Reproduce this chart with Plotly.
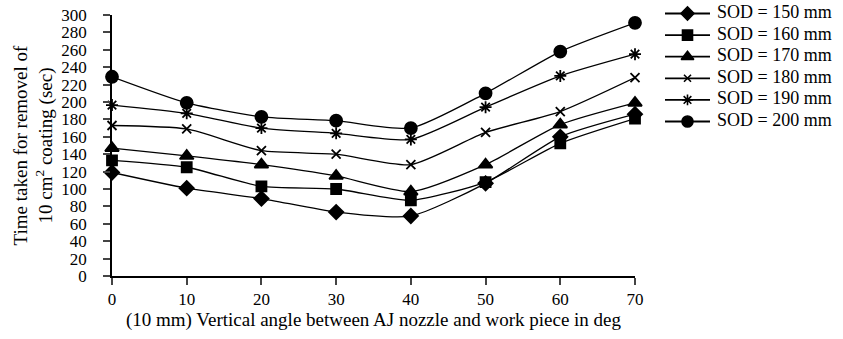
import plotly.graph_objects as go

angles = [0, 10, 20, 30, 40, 50, 60, 70]
sod_150 = [119, 101, 89, 73.5, 69, 106.5, 160, 186]
sod_160 = [133, 125, 103, 100, 87, 108, 152.5, 181]
sod_170 = [147, 138, 128, 115, 97, 128, 174, 199]
sod_180 = [173, 169, 144, 140, 128, 165, 189, 228]
sod_190 = [196.5, 187, 170, 164, 157, 194, 230, 255]
sod_200 = [229, 199, 183, 178.5, 170, 210, 258, 291]
series_names = ["SOD = 150 mm", "SOD = 160 mm", "SOD = 170 mm",
                "SOD = 180 mm", "SOD = 190 mm", "SOD = 200 mm"]
y_ticks = list(range(0, 301, 20))

series = [sod_150, sod_160, sod_170, sod_180, sod_190, sod_200]
symbols = ["diamond", "square", "triangle-up", "x-thin-open", "asterisk-open", "circle"]
sizes = [11, 10, 12, 9, 10, 12]
leg_sizes = [10, 10, 11, 7, 9, 11]

FAM = "Liberation Serif, Times New Roman, serif"
tick_font = dict(family=FAM, size=17, color="black")
title_font = dict(family=FAM, size=19, color="black")
legend_font = dict(family=FAM, size=18, color="black")

W, H = 843, 339
L, R, T, B = 112, 0, 0, 63
plot_w = W - L - R
plot_h = H - T - B          # 276 px, from the top of the page to the x axis
main_top = 15               # pixel y of the top of the data area
main_w = 523                # pixel width of the data area
leg_left = 665              # pixel where legend starts
row_first = 13.5            # pixel y of first legend row
row_gap = 21.6              # legend row spacing in px
leg_w = W - leg_left
y2_max = row_first / row_gap
y2_min = y2_max - plot_h / row_gap

fig = go.Figure()
for name, vals, sym, sz in zip(series_names, series, symbols, sizes):
    fig.add_trace(go.Scatter(
        x=angles, y=vals, name=name, mode="lines+markers",
        line=dict(color="black", width=1.3, shape="spline", smoothing=0.6),
        marker=dict(symbol=sym, size=sz, color="black",
                    line=dict(color="black", width=1.8)),
        cliponaxis=False, showlegend=False,
    ))

# custom legend drawn on its own axis in the right-hand panel
for i, (name, sym, sz) in enumerate(zip(series_names, symbols, leg_sizes)):
    fig.add_trace(go.Scatter(
        x=[0, 45], y=[-i, -i], mode="lines", xaxis="x2", yaxis="y2",
        line=dict(color="black", width=1.8), cliponaxis=False,
        showlegend=False, hoverinfo="skip",
    ))
    fig.add_trace(go.Scatter(
        x=[22.5], y=[-i], mode="markers", xaxis="x2", yaxis="y2",
        marker=dict(symbol=sym, size=sz, color="black",
                    line=dict(color="black", width=1.6)),
        cliponaxis=False, showlegend=False, hoverinfo="skip",
    ))
    fig.add_trace(go.Scatter(
        x=[52], y=[-i], mode="text", text=[name], textposition="middle right",
        textfont=legend_font, xaxis="x2", yaxis="y2",
        cliponaxis=False, showlegend=False, hoverinfo="skip",
    ))

fig.update_layout(
    width=W, height=H,
    margin=dict(l=L, r=R, t=T, b=B, autoexpand=False),
    paper_bgcolor="white", plot_bgcolor="white",
    font=tick_font,
    showlegend=False,
    xaxis=dict(
        domain=[0, main_w / plot_w],
        range=[0, 70], tickvals=angles, ticks="outside", ticklen=7, tickwidth=1.5,
        showline=True, linecolor="black", linewidth=1.8, showgrid=False, zeroline=False,
        tickfont=tick_font, automargin=False, ticklabeloverflow="allow",
        title=dict(text="(10 mm) Vertical angle between AJ nozzle and work piece in deg",
                   font=title_font, standoff=4),
    ),
    yaxis=dict(
        domain=[0, (plot_h - main_top) / plot_h],
        range=[0, 300], tickvals=y_ticks, ticks="outside", ticklen=7, tickwidth=1.5,
        showline=True, linecolor="black", linewidth=1.8, showgrid=False, zeroline=False,
        tickfont=tick_font, automargin=False, ticklabelstandoff=13,
        ticklabeloverflow="allow",
        title=dict(text="Time taken for removel of<br>10 cm<sup>2</sup> coating (sec)",
                   font=title_font, standoff=4),
    ),
    xaxis2=dict(domain=[(leg_left - L) / plot_w, 1], range=[0, leg_w],
                visible=False, anchor="y2", fixedrange=True),
    yaxis2=dict(domain=[0, 1], range=[y2_min, y2_max],
                visible=False, anchor="x2", fixedrange=True),
)
fig.write_html("out.html",
               config={"displayModeBar": False},
               post_script="document.body.style.margin='0';document.body.style.overflow='hidden';")
